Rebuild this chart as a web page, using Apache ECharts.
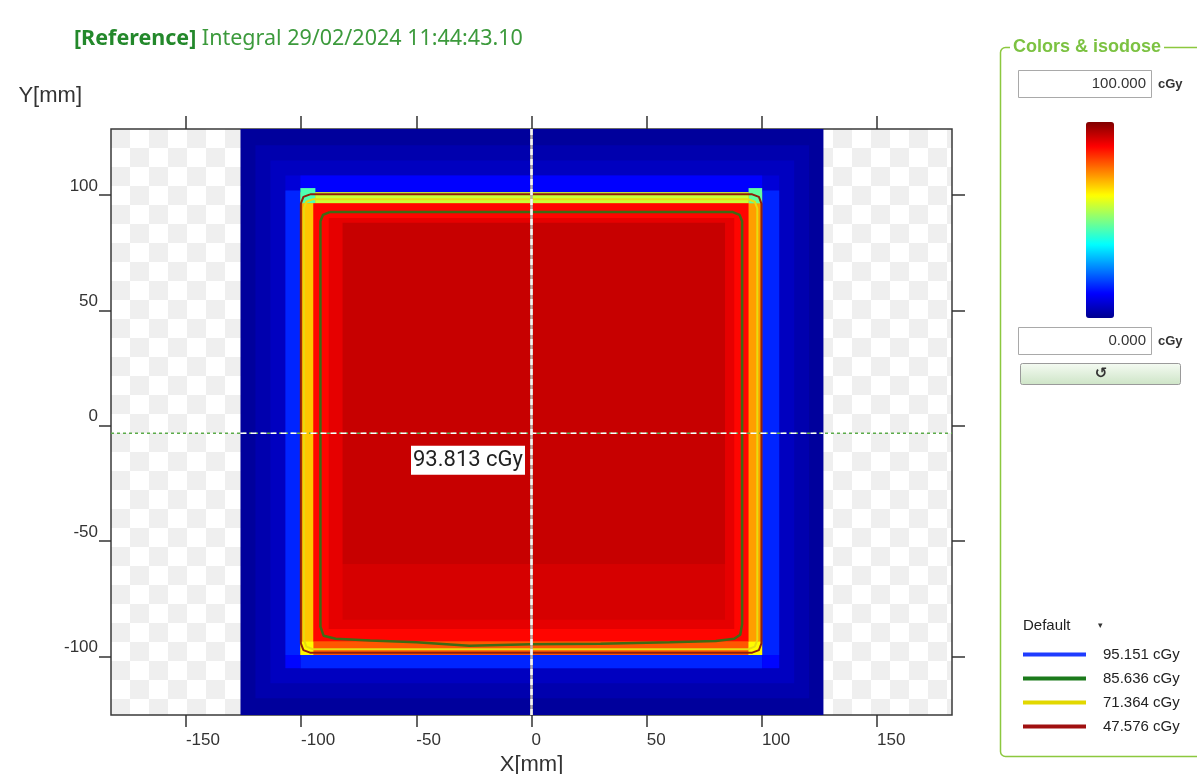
<!DOCTYPE html>
<html>
<head>
<meta charset="utf-8">
<script src="https://cdn.jsdelivr.net/npm/echarts@6/dist/echarts.min.js"></script>
<style>
html, body { margin: 0; padding: 0; background: #fff; }
#main { width: 1197px; height: 774px; }
</style>
</head>
<body>
<div id="main"></div>
<script>
// ---- values (mm and cGy) ----
var xRange = [-182.5, 182.5];
var yRange = [-125.3, 128.6];
var xTicks = [-150, -100, -50, 0, 50, 100, 150];
var yTicks = [-100, -50, 0, 50, 100];

// dose patches, painted in this order: [x from, x to, y from, y to, dose]
var blueLayers = [
    [-126.3, 126.7, -130, 132, 1.5],
    [-119.8, 120.5, -118, 121.6, 3.5],
    [-113.3, 114, -111.5, 115, 5.5],
    [-106.8, 107.5, -105, 108.5, 8],
    [-100.3, 100.1, 101.2, 108.5, 12.5],
    [-106.8, -100.3, -99.3, 102, 16],
    [100.1, 107.5, -99.3, 102, 16],
    [-100.3, 100.1, -105, -99.3, 16],
    [-106.8, -100.3, -105, -99.3, 13],
    [100.1, 107.5, -105, -99.3, 13]
];
var fieldLayers = [
    [-100.3, 100.1, -99.3, 101.2, 72],
    [-100.3, -93.8, 96.4, 103, 45],
    [94.2, 100.1, 96.4, 103, 47],
    [-93.8, 94.2, 96.4, 101.2, 57],
    [-99, -94.7, -97.5, 96.4, 68],
    [-94.7, 94.2, -99.3, -93.5, 79],
    [-100.3, -94.7, -99.3, -93.5, 63],
    [94.2, 100.1, -99.3, -93.5, 63],
    [-94.7, 94.2, -93.5, 96.4, 87],
    [-88, 88, -88, 90, 90],
    [-82, 84, -84, -60, 91.5],
    [-82, 84, -60, 88, 93]
];

// isodose contours [x, y]
var iso85 = [[-87.6, 92.6], [87.4, 92.6], [90.3, 91.4], [91.4, 88.6], [91.4, -86], [90.6, -90.5],
    [88, -92.3], [80, -93.2], [60, -93.8], [30, -94.4], [0, -94.6], [-27, -95.3], [-50, -93.8],
    [-70, -93], [-85, -92.3], [-90.2, -91], [-91.6, -87], [-91.6, 88.6], [-90.5, 91.4], [-87.6, 92.6]];
var iso71 = [[-94.8, 98.2], [94, 98.2], [96.9, 97.1], [98, 94.2], [98, -92.8], [96.9, -95.7],
    [94, -96.8], [-94.8, -96.8], [-97.7, -95.7], [-98.8, -92.8], [-98.8, 94.2], [-97.7, 97.1], [-94.8, 98.2]];
var iso47 = [[-96.1, 100.3], [95.8, 100.3], [98.7, 99.2], [99.8, 96.3], [99.8, -94.3], [98.7, -97.2],
    [95.8, -98.3], [-96.1, -98.3], [-99, -97.2], [-100.1, -94.3], [-100.1, 96.3], [-99, 99.2], [-96.1, 100.3]];
var isoNames = ['95.151 cGy', '85.636 cGy', '71.364 cGy', '47.576 cGy'];

var cursorPos = [0, -3.2];
var cursorDose = 93.813;
var scaleMin = 0, scaleMax = 100;

var myChart = echarts.init(document.getElementById('main'));

// checkerboard behind the plot
var checker = document.createElement('canvas');
checker.width = 38; checker.height = 38;
var cx = checker.getContext('2d');
cx.fillStyle = '#ffffff'; cx.fillRect(0, 0, 38, 38);
cx.fillStyle = '#efefef'; cx.fillRect(0, 0, 19, 19); cx.fillRect(19, 19, 19, 19);

function renderCell(params, api) {
    var p0 = api.coord([api.value(0), api.value(3)]);
    var p1 = api.coord([api.value(1), api.value(2)]);
    var rect = echarts.graphic.clipRectByRect(
        { x: p0[0], y: p0[1], width: p1[0] - p0[0], height: p1[1] - p0[1] },
        { x: params.coordSys.x, y: params.coordSys.y, width: params.coordSys.width, height: params.coordSys.height });
    return rect && { type: 'rect', shape: rect, style: { fill: api.visual('color') } };
}

var tickFont = 'Liberation Sans, Arial, sans-serif';
var panelFont = 'Liberation Sans, Arial, sans-serif';
var tickLine = { color: '#333', width: 1.5 };

var option = {
    animation: false,
    title: {
        text: '{b|[Reference]} Integral 29/02/2024 11:44:43.10',
        left: 69, top: 23,
        textStyle: {
            fontSize: 21.5, fontWeight: 'normal', color: '#3c9a3c', fontFamily: 'Noto Sans',
            rich: { b: { fontSize: 21.5, fontWeight: 'bold', color: '#23882b', fontFamily: 'Noto Sans' } }
        }
    },
    grid: {
        left: 111, right: 245, top: 129, bottom: 59, outerBoundsMode: 'none',
        show: true, backgroundColor: { image: checker, repeat: 'repeat', x: 111, y: 129 },
        borderColor: '#3a3a3a', borderWidth: 1.5
    },
    xAxis: [{
        type: 'value', min: xRange[0], max: xRange[1], position: 'bottom',
        axisLine: { show: false, onZero: false }, splitLine: { show: false },
        axisTick: { show: true, length: 12, customValues: xTicks, lineStyle: tickLine },
        axisLabel: { customValues: xTicks, align: 'left', margin: 17, fontSize: 17, color: '#333', fontFamily: tickFont },
        name: 'X[mm]', nameLocation: 'middle', nameGap: 37,
        nameTextStyle: { fontSize: 22, color: '#333', fontFamily: tickFont, verticalAlign: 'top' }
    }, {
        type: 'value', min: xRange[0], max: xRange[1], position: 'top',
        axisLine: { show: false, onZero: false }, splitLine: { show: false },
        axisTick: { show: true, length: 13, customValues: xTicks, lineStyle: tickLine },
        axisLabel: { show: false }
    }],
    yAxis: [{
        type: 'value', min: yRange[0], max: yRange[1], position: 'left',
        axisLine: { show: false, onZero: false }, splitLine: { show: false },
        axisTick: { show: true, length: 12, customValues: yTicks, lineStyle: tickLine },
        axisLabel: { customValues: yTicks, margin: 13, verticalAlign: 'bottom', lineHeight: 18,
            fontSize: 17, color: '#333', fontFamily: tickFont },
        name: 'Y[mm]', nameLocation: 'end', nameGap: 22,
        nameTextStyle: { fontSize: 22, color: '#333', fontFamily: tickFont, align: 'right', verticalAlign: 'bottom', padding: [0, 29, 0, 0] }
    }, {
        type: 'value', min: yRange[0], max: yRange[1], position: 'right',
        axisLine: { show: false, onZero: false }, splitLine: { show: false },
        axisTick: { show: true, length: 13, customValues: yTicks, lineStyle: tickLine },
        axisLabel: { show: false }
    }],
    visualMap: {
        type: 'continuous', min: scaleMin, max: scaleMax, seriesIndex: 0, dimension: 4,
        calculable: false, left: 1086, top: 122, itemWidth: 28, itemHeight: 196, padding: 0,
        inRange: { color: ['#00008f', '#0000ff', '#0080ff', '#00ffff', '#80ff80', '#ffff00', '#ff8000', '#ff0000', '#800000'] }
    },
    legend: {
        data: isoNames, orient: 'vertical', left: 1018, top: 642,
        icon: 'rect', itemWidth: 63, itemHeight: 4, itemGap: 9,
        selectedMode: false,
        textStyle: { fontSize: 15, color: '#222', fontFamily: panelFont, padding: [0, 0, 0, 12] }
    },
    graphic: [
        { type: 'rect', shape: { x: 1000.5, y: 47.5, width: 220, height: 709, r: 5 },
          style: { fill: 'none', stroke: '#8cc83f', lineWidth: 1.5 } },
        { type: 'text', x: 1010, y: 47, style: { text: 'Colors & isodose', fill: '#7cc242', font: 'bold 18px ' + panelFont,
          verticalAlign: 'middle', backgroundColor: '#fff', padding: [0, 3] } },
        { type: 'rect', shape: { x: 1018.5, y: 70.5, width: 133, height: 27 }, style: { fill: '#fff', stroke: '#a9a9a9' } },
        { type: 'text', x: 1146, y: 84, style: { text: scaleMax.toFixed(3), fill: '#333', font: '15px ' + panelFont, align: 'right', verticalAlign: 'middle' } },
        { type: 'text', x: 1158, y: 84, style: { text: 'cGy', fill: '#333', font: 'bold 13px ' + panelFont, verticalAlign: 'middle' } },
        { type: 'rect', shape: { x: 1018.5, y: 327.5, width: 133, height: 27 }, style: { fill: '#fff', stroke: '#a9a9a9' } },
        { type: 'text', x: 1146, y: 341, style: { text: scaleMin.toFixed(3), fill: '#333', font: '15px ' + panelFont, align: 'right', verticalAlign: 'middle' } },
        { type: 'text', x: 1158, y: 341, style: { text: 'cGy', fill: '#333', font: 'bold 13px ' + panelFont, verticalAlign: 'middle' } },
        { type: 'rect', shape: { x: 1020.5, y: 363.5, width: 160, height: 21, r: 2 },
          style: { stroke: '#9a9a9a', fill: new echarts.graphic.LinearGradient(0, 0, 0, 1, [
              { offset: 0, color: '#f5fbf3' }, { offset: 1, color: '#cde4c6' }]) } },
        { type: 'text', x: 1101, y: 374, style: { text: '\u21BA', fill: '#333', font: 'bold 15px DejaVu Sans', align: 'center', verticalAlign: 'middle' } },
        { type: 'text', x: 1023, y: 626, style: { text: 'Default', fill: '#222', font: '15px ' + panelFont, verticalAlign: 'middle' } },
        { type: 'text', x: 1098, y: 626, style: { text: '\u25BE', fill: '#333', font: '9px DejaVu Sans', verticalAlign: 'middle' } }
    ],
    series: [
        {
            type: 'custom', renderItem: renderCell, silent: true,
            data: blueLayers.concat(fieldLayers),
            encode: { x: [0, 1], y: [2, 3] }
        },
        { name: isoNames[0], type: 'line', data: [], color: '#1f3cff', symbol: 'none' },
        { name: isoNames[1], type: 'line', data: iso85, color: '#1b7a1b', symbol: 'none', silent: true,
          lineStyle: { color: '#3f6a14', width: 2.5 } },
        { name: isoNames[2], type: 'line', data: iso71, color: '#e2d800', symbol: 'none', silent: true,
          lineStyle: { color: '#e8dc10', width: 2 } },
        { name: isoNames[3], type: 'line', data: iso47, color: '#a01010', symbol: 'none', silent: true,
          lineStyle: { color: '#8e200a', width: 2 } },
        // cursor cross
        { type: 'line', symbol: 'none', silent: true, data: [[xRange[0], cursorPos[1]], [xRange[1], cursorPos[1]]],
          lineStyle: { color: '#5cab4a', width: 1.5, type: [3, 3] } },
        { type: 'line', symbol: 'none', silent: true, data: [[blueLayers[0][0], cursorPos[1]], [blueLayers[0][1], cursorPos[1]]],
          lineStyle: { color: '#ffffff', width: 1.5, type: [6, 4] } },
        { type: 'line', symbol: 'none', silent: true, data: [[cursorPos[0], yRange[0]], [cursorPos[0], yRange[1]]],
          lineStyle: { color: '#b8b0a8', width: 2.5 } },
        { type: 'line', symbol: 'none', silent: true, data: [[cursorPos[0], yRange[0]], [cursorPos[0], yRange[1]]],
          lineStyle: { color: '#f4f4f4', width: 2.5, type: [6, 4] } },
        {
            type: 'scatter', data: [cursorPos], symbolSize: 1, silent: true,
            itemStyle: { color: '#ffffff', opacity: 1 },
            label: {
                show: true, position: [-120, 13], formatter: cursorDose.toFixed(3) + ' cGy',
                backgroundColor: '#ffffff', padding: [4, 2, 3, 2], fontSize: 22, color: '#222', fontFamily: 'Roboto'
            }
        }
    ]
};

myChart.setOption(option);
</script>
</body>
</html>
